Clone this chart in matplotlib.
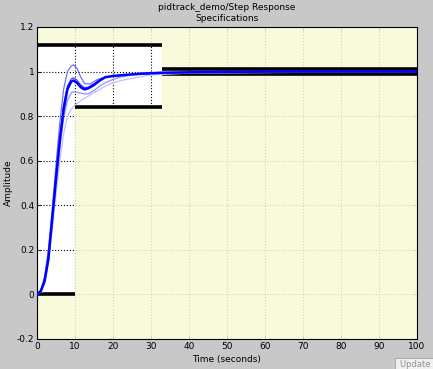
import numpy as np
import matplotlib
matplotlib.use('Agg')
import matplotlib.pyplot as plt
from matplotlib.patches import Rectangle

# step response, nominal (thick) and uncertain variants (thin)
t_main = [0, 1, 2, 3, 4, 5, 6, 7, 8, 9, 9.6, 10.5, 11.5, 12.5, 13.5, 15, 16.5, 18, 20, 23, 27, 33, 45, 60, 80, 100]
y_main = [0, 0.015, 0.06, 0.16, 0.34, 0.52, 0.69, 0.83, 0.92, 0.955, 0.96, 0.95, 0.93, 0.92, 0.925, 0.94, 0.96,
          0.975, 0.98, 0.985, 0.99, 0.995, 0.998, 1.0, 1.0, 1.0]

t_a = [0, 1, 2, 3, 4, 5, 6, 7, 8, 9, 9.6, 10.5, 11.5, 12.6, 14, 16, 18, 20, 24, 30, 40, 100]
y_a = [0, 0.02, 0.08, 0.2, 0.38, 0.58, 0.77, 0.92, 1.0, 1.025, 1.03, 1.015, 0.975, 0.945, 0.945, 0.965, 0.975,
       0.98, 0.985, 0.99, 0.995, 1.0]

t_b = [0, 1, 2, 3, 4, 5, 6, 7, 8, 9, 9.6, 10.5, 11.5, 12.5, 13.5, 15, 16.5, 18, 20, 23, 27, 33, 45, 100]
y_b = [0, 0.016, 0.065, 0.17, 0.35, 0.54, 0.71, 0.85, 0.935, 0.967, 0.972, 0.962, 0.94, 0.928, 0.93, 0.945,
       0.962, 0.975, 0.98, 0.985, 0.99, 0.995, 0.998, 1.0]

t_c = [0, 1, 2, 3, 4, 5, 6, 7, 8, 9, 9.6, 11, 12.5, 13.5, 15, 16.5, 18, 20, 22, 25, 30, 40, 100]
y_c = [0, 0.01, 0.05, 0.15, 0.31, 0.49, 0.66, 0.79, 0.87, 0.905, 0.91, 0.905, 0.9, 0.9, 0.915, 0.935, 0.95,
       0.965, 0.975, 0.985, 0.99, 0.995, 1.0]

t_d = [0, 1, 2, 3, 4, 5, 6, 7, 8, 9, 10, 12, 13.5, 16, 18, 20, 22.3, 25, 30, 40, 100]
y_d = [0, 0.01, 0.05, 0.14, 0.29, 0.45, 0.6, 0.72, 0.8, 0.83, 0.85, 0.875, 0.89, 0.915, 0.935, 0.95, 0.96,
       0.97, 0.985, 0.993, 1.0]

# specification bounds
bound_t = [0, 10, 33, 100]
upper_t = [0, 33, 100]
upper_y = [1.12, 1.01]
lower_y = [0, 0.84, 0.99]

xticks = np.arange(0, 101, 10)
yticks = [-0.2, 0, 0.2, 0.4, 0.6, 0.8, 1, 1.2]
ytick_labels = ['-0.2', '0', '0.2', '0.4', '0.6', '0.8', '1', '1.2']

plt.rcParams['font.family'] = ['DejaVu Sans']
plt.rcParams['font.size'] = 6.5

fig = plt.figure(figsize=(4.33, 3.69), dpi=100, facecolor='#c8c8c8')
ax = fig.add_axes([37 / 433, 30 / 369, 380 / 433, 312 / 369])
ax.set_facecolor('white')
ax.set_xlim(0, 100)
ax.set_ylim(-0.2, 1.2)
ax.set_axisbelow(True)
ax.grid(True, linestyle=':', color='black', linewidth=0.8)

yellow = (249 / 255, 249 / 255, 214 / 255)
for i in range(len(upper_y)):
    ax.add_patch(Rectangle((upper_t[i], upper_y[i]), upper_t[i + 1] - upper_t[i], 1.2 - upper_y[i] + 0.1,
                           facecolor=yellow, edgecolor='none', alpha=0.85, zorder=1))
    ax.plot(upper_t[i:i + 2], [upper_y[i], upper_y[i]], color='black', lw=2.6, zorder=3,
            solid_capstyle='butt')
for i in range(len(lower_y)):
    ax.add_patch(Rectangle((bound_t[i], -0.3), bound_t[i + 1] - bound_t[i], lower_y[i] + 0.3,
                           facecolor=yellow, edgecolor='none', alpha=0.85, zorder=1))
    ax.plot(bound_t[i:i + 2], [lower_y[i], lower_y[i]], color='black', lw=2.6, zorder=3,
            solid_capstyle='butt')

ax.plot(t_d, y_d, color='#c0c0ff', lw=0.9, zorder=4)
ax.plot(t_c, y_c, color='#9090ff', lw=0.9, zorder=4)
ax.plot(t_a, y_a, color='#6f6fff', lw=0.9, zorder=4)
ax.plot(t_b, y_b, color='#4848ff', lw=0.9, zorder=4)
ax.plot(t_main, y_main, color='#0000ff', lw=1.8, zorder=5)

ax.set_xticks(xticks)
ax.set_yticks(yticks)
ax.set_yticklabels(ytick_labels)
ax.tick_params(direction='in', length=3, width=0.6, top=True, right=True, pad=2)
for s in ax.spines.values():
    s.set_linewidth(0.8)

ax.set_xlabel('Time (seconds)', labelpad=3)
ax.set_ylabel('Amplitude', labelpad=3)
ax.set_title('pidtrack_demo/Step Response\nSpecifications', fontsize=6.5, pad=4, linespacing=1.3)

# partly hidden button in the corner
fig.patches.append(Rectangle((395 / 433, 0), 40 / 433, 11 / 369, transform=fig.transFigure,
                             facecolor='#f0f0f0', edgecolor='#a0a0a0', lw=0.6))
fig.text(400 / 433, 2 / 369, 'Update l', fontsize=6, color='#909090')

fig.savefig('out.png', dpi=100, facecolor=fig.get_facecolor())
